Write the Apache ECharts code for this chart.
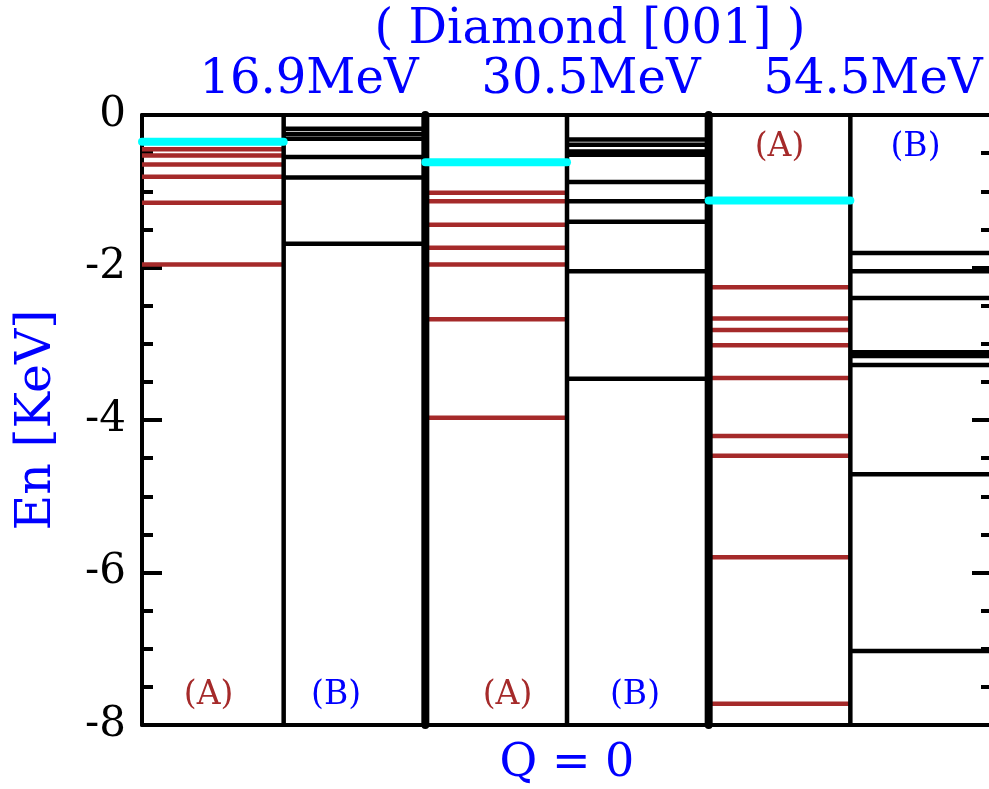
<!DOCTYPE html>
<html>
<head>
<meta charset="utf-8">
<script src="https://cdn.jsdelivr.net/npm/echarts@6/dist/echarts.min.js"></script>
<style>
  html, body { margin: 0; padding: 0; background: #fff; }
  #chart { width: 989px; height: 789px; }
</style>
</head>
<body>
<div id="chart"></div>
<script>
// Beam energies, one pair of columns (A, B) per energy
const beamEnergies = ['16.9MeV', '30.5MeV', '54.5MeV'];
const columnTags = ['(A)', '(B)'];

// Bound levels in keV, column A (red) and column B (black) for each beam energy
const levelsA_16 = [-0.45, -0.53, -0.65, -0.81, -1.15, -1.96];
const levelsB_16 = [-0.18, -0.25, -0.31, -0.55, -0.82, -1.69];
const levelsA_30 = [-1.02, -1.13, -1.44, -1.74, -1.96, -2.68, -3.97];
const levelsB_30 = [-0.32, -0.39, -0.48, -0.52, -0.88, -1.13, -1.40, -2.05, -3.46];
const levelsA_54 = [-2.26, -2.67, -2.82, -3.02, -3.45, -4.21, -4.47, -5.80, -7.72];
const levelsB_54 = [-1.81, -2.05, -2.40, -3.11, -3.16, -3.28, -4.71, -7.03];

// Highlighted level in each A column (cyan)
const groundLevels = [-0.35, -0.62, -1.12];

// Y-axis range and ticks
const yMin = -8, yMax = 0, yStep = 2;

const SERIF = 'DejaVu Serif';
const RED = '#a52a2a';
const BLUE = '#0000ff';

// column index: A of energy i is column 2i, B is column 2i+1
const levelsA = [levelsA_16, levelsA_30, levelsA_54];
const levelsB = [levelsB_16, levelsB_30, levelsB_54];
const redData = [], blackData = [], cyanData = [];
levelsA.forEach((arr, i) => arr.forEach(e => redData.push([2 * i, e])));
levelsB.forEach((arr, i) => arr.forEach(e => blackData.push([2 * i + 1, e])));
groundLevels.forEach((e, i) => cyanData.push([2 * i, e]));

// Column separators: thin inside an energy, thick between energies
const thinSep = [1, 3, 5].map(x => [x]);
const thickSep = [2, 4].map(x => [x]);

// Where the (A)/(B) tags sit, in axis units
const tagLayout = [
  [0.47, -7.61, 0], [1.37, -7.61, 1],
  [2.58, -7.61, 0], [3.48, -7.61, 1],
  [4.50, -0.43, 0], [5.46, -0.43, 1]
];

function levelRenderer(color, width, cap) {
  return function (params, api) {
    const c = api.value(0), e = api.value(1);
    const a = api.coord([c, e]);
    const b = api.coord([c + 1, e]);
    return {
      type: 'line',
      shape: { x1: a[0], y1: a[1], x2: b[0], y2: b[1] },
      style: { stroke: color, lineWidth: width, lineCap: cap }
    };
  };
}

function separatorRenderer(width, cap) {
  return function (params, api) {
    const x = api.value(0);
    const top = api.coord([x, yMax]);
    const bot = api.coord([x, yMin]);
    return {
      type: 'line',
      shape: { x1: top[0], y1: top[1], x2: bot[0], y2: bot[1] },
      style: { stroke: '#000', lineWidth: width, lineCap: cap }
    };
  };
}

const axisCommon = {
  type: 'value',
  min: yMin,
  max: yMax,
  interval: yStep,
  axisLine: { show: true, onZero: false, lineStyle: { color: '#000', width: 4 } },
  axisTick: { show: true, inside: true, length: 20, lineStyle: { color: '#000', width: 4 } },
  minorTick: { show: true, splitNumber: 4, length: 11, lineStyle: { color: '#000', width: 4 } },
  splitLine: { show: false }
};

const chart = echarts.init(document.getElementById('chart'), null, { renderer: 'canvas' });

chart.setOption({
  animation: false,
  backgroundColor: '#fff',
  grid: { left: 142, right: -3, top: 115, bottom: 64, containLabel: false, outerBoundsMode: 'none' },
  xAxis: [
    {
      type: 'value', min: 0, max: 6, position: 'bottom',
      axisLine: { show: true, onZero: false, lineStyle: { color: '#000', width: 4 } },
      axisTick: { show: false }, axisLabel: { show: false }, splitLine: { show: false },
      name: 'Q = 0', nameLocation: 'middle', nameGap: 16,
      nameTextStyle: { color: BLUE, fontSize: 46, fontFamily: SERIF }
    },
    {
      type: 'value', min: 0, max: 6, position: 'top',
      axisLine: { show: true, onZero: false, lineStyle: { color: '#000', width: 4 } },
      axisTick: { show: false }, axisLabel: { show: false }, splitLine: { show: false }
    }
  ],
  yAxis: [
    Object.assign({}, axisCommon, {
      position: 'left',
      axisLabel: { color: '#000', fontSize: 42, fontFamily: SERIF, margin: 16 },
      name: 'En [KeV]', nameLocation: 'middle', nameGap: 80,
      nameTextStyle: { color: BLUE, fontSize: 49, fontFamily: SERIF }
    }),
    Object.assign({}, axisCommon, {
      position: 'right',
      axisLabel: { show: false }
    })
  ],
  graphic: [
    { type: 'text', style: {
        text: '( Diamond [001] )', x: 590, y: 31, align: 'center', verticalAlign: 'middle',
        fill: BLUE, font: '48px "DejaVu Serif"' } },
    ...beamEnergies.map((t, i) => ({
      type: 'text',
      style: { text: t, x: [309, 591, 873][i], y: 81, align: 'center', verticalAlign: 'middle',
        fill: BLUE, font: '48px "DejaVu Serif"' }
    }))
  ],
  series: [
    { type: 'custom', coordinateSystem: 'cartesian2d', clip: false, z: 3,
      renderItem: levelRenderer(RED, 4.5, 'butt'), data: redData },
    { type: 'custom', coordinateSystem: 'cartesian2d', clip: false, z: 3,
      renderItem: levelRenderer('#000', 4.5, 'butt'), data: blackData },
    { type: 'custom', coordinateSystem: 'cartesian2d', clip: false, z: 4,
      renderItem: separatorRenderer(4.5, 'butt'), data: thinSep },
    { type: 'custom', coordinateSystem: 'cartesian2d', clip: false, z: 4,
      renderItem: separatorRenderer(8, 'round'), data: thickSep },
    { type: 'custom', coordinateSystem: 'cartesian2d', clip: false, z: 5,
      renderItem: levelRenderer('#00ffff', 8, 'round'), data: cyanData },
    { type: 'custom', coordinateSystem: 'cartesian2d', clip: false, z: 6,
      renderItem: function (params, api) {
        const p = api.coord([api.value(0), api.value(1)]);
        const k = api.value(2);
        return {
          type: 'text',
          style: { text: columnTags[k], x: p[0], y: p[1], align: 'center', verticalAlign: 'middle',
            fill: k === 0 ? RED : BLUE, font: '33px "DejaVu Serif"' }
        };
      },
      data: tagLayout }
  ]
});
</script>
</body>
</html>
